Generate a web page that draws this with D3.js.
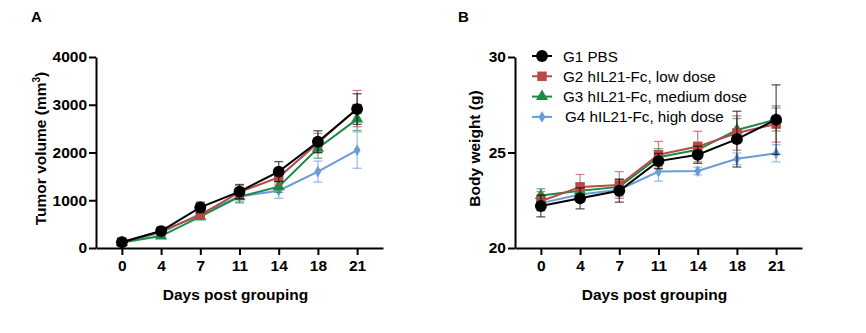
<!DOCTYPE html>
<html>
<head>
<meta charset="utf-8">
<script src="https://cdn.jsdelivr.net/npm/d3@7"></script>
<style>
  body { margin: 0; background: #fff; }
  svg text { font-family: "Liberation Sans", Arial, sans-serif; }
  .axis path, .axis line { stroke: #000; stroke-width: 2px; }
  .axis text { font-size: 15.5px; font-weight: bold; fill: #000; }
  .axis-label { font-size: 15.5px; font-weight: bold; }
  .panel-label { font-size: 15px; font-weight: bold; }
  .legend text { font-size: 15.2px; }
</style>
</head>
<body>
<div id="chart"></div>
<script>
// days after grouping
var days = ["0", "4", "7", "11", "14", "18", "21"];
var groups = ["G1 PBS", "G2 hIL21-Fc, low dose", "G3 hIL21-Fc, medium dose", "G4 hIL21-Fc, high dose"];
var groupColors = ["#000000", "#b84a45", "#1a8c44", "#6b9bd6"];

// tumor volume (mm3), mean and SEM per group
var tumorG1 = [120, 355, 850, 1180, 1600, 2225, 2910];
var tumorG2 = [125, 350, 690, 1170, 1480, 2200, 2920];
var tumorG3 = [115, 250, 655, 1075, 1285, 2090, 2700];
var tumorG4 = [118, 320, 720, 1080, 1200, 1600, 2050];
var tumorSemG1 = [30, 40, 110, 150, 210, 230, 320];
var tumorSemG2 = [30, 40, 80, 140, 160, 200, 380];
var tumorSemG3 = [25, 35, 60, 130, 120, 210, 240];
var tumorSemG4 = [25, 40, 80, 110, 160, 220, 380];

// body weight (g), mean and SEM per group
var weightG1 = [22.2, 22.6, 23.0, 24.55, 24.88, 25.7, 26.72];
var weightG2 = [22.45, 23.2, 23.3, 24.88, 25.31, 26.02, 26.49];
var weightG3 = [22.75, 23.0, 23.2, 24.75, 25.14, 26.18, 26.73];
var weightG4 = [22.35, 22.8, 23.05, 24.0, 24.03, 24.67, 24.96];
var weightSemG1 = [0.57, 0.55, 0.6, 0.4, 0.45, 1.46, 1.82];
var weightSemG2 = [0.5, 0.65, 0.7, 0.7, 0.8, 0.9, 0.95];
var weightSemG3 = [0.35, 0.4, 0.4, 0.45, 0.4, 0.6, 0.6];
var weightSemG4 = [0.3, 0.3, 0.35, 0.5, 0.2, 0.3, 0.45];

var tumorTicks = [0, 1000, 2000, 3000, 4000];
var weightTicks = [20, 25, 30];

var symbols = [d3.symbolCircle, d3.symbolSquare, d3.symbolTriangle, d3.symbolDiamond];
var symbolSizes = [110, 90, 64, 40];

var svg = d3.select("#chart").append("svg")
    .attr("width", 866)
    .attr("height", 333);

function drawPanel(cfg) {
    var g = svg.append("g")
        .attr("transform", "translate(" + cfg.left + "," + cfg.top + ")");

    var width = 287, height = 191;

    var x = d3.scalePoint()
        .domain(days)
        .range([0, width])
        .padding(0.66);

    var y = d3.scaleLinear()
        .domain(cfg.domain)
        .range([height, 0]);

    g.append("g")
        .attr("class", "axis x-axis")
        .attr("transform", "translate(0," + height + ")")
        .call(d3.axisBottom(x).tickSize(7).tickSizeOuter(0).tickPadding(5));

    g.append("g")
        .attr("class", "axis y-axis")
        .call(d3.axisLeft(y).tickValues(cfg.ticks).tickFormat(d3.format("d"))
            .tickSize(7).tickSizeOuter(0).tickPadding(2));

    // draw high dose first so PBS sits on top
    for (var i = cfg.series.length - 1; i >= 0; i--) {
        var vals = cfg.series[i], sem = cfg.sems[i], col = groupColors[i];
        var pts = days.map(function(d, j) { return {day: d, v: vals[j], e: sem[j]}; });

        var bars = g.append("g")
            .attr("stroke", col)
            .attr("stroke-opacity", 0.65)
            .attr("stroke-width", 1.3);

        bars.selectAll("line.v").data(pts).enter().append("line")
            .attr("x1", function(d) { return x(d.day); })
            .attr("x2", function(d) { return x(d.day); })
            .attr("y1", function(d) { return y(d.v - d.e); })
            .attr("y2", function(d) { return y(d.v + d.e); });

        [-1, 1].forEach(function(s) {
            bars.selectAll("line.c" + (s + 1)).data(pts).enter().append("line")
                .attr("x1", function(d) { return x(d.day) - 4.5; })
                .attr("x2", function(d) { return x(d.day) + 4.5; })
                .attr("y1", function(d) { return y(d.v + s * d.e); })
                .attr("y2", function(d) { return y(d.v + s * d.e); });
        });

        var line = d3.line()
            .x(function(d) { return x(d.day); })
            .y(function(d) { return y(d.v); });

        g.append("path")
            .datum(pts)
            .attr("fill", "none")
            .attr("stroke", col)
            .attr("stroke-width", 2)
            .attr("d", line);

        g.selectAll(".m" + i).data(pts).enter().append("path")
            .attr("class", "m" + i)
            .attr("transform", function(d) { return "translate(" + x(d.day) + "," + y(d.v) + ")"; })
            .attr("d", d3.symbol().type(symbols[i]).size(symbolSizes[i]))
            .attr("fill", col);
    }

    g.append("text")
        .attr("class", "axis-label")
        .attr("text-anchor", "middle")
        .attr("x", width / 2 - 4)
        .attr("y", height + 52)
        .text("Days post grouping");

    var yl = g.append("text")
        .attr("class", "axis-label")
        .attr("text-anchor", "middle")
        .attr("transform", "translate(" + cfg.yTitleX + "," + (height / 2 - 4) + ") rotate(-90)");
    yl.append("tspan").text(cfg.yTitle);
    if (cfg.sup) {
        yl.append("tspan").attr("dy", -6).attr("font-size", "10px").text(cfg.sup);
        yl.append("tspan").attr("dy", 6).text(")");
    }

    svg.append("text")
        .attr("class", "panel-label")
        .attr("x", cfg.labelX)
        .attr("y", 22)
        .text(cfg.label);

    return g;
}

drawPanel({
    left: 96, top: 57, domain: [0, 4000], ticks: tumorTicks,
    series: [tumorG1, tumorG2, tumorG3, tumorG4],
    sems: [tumorSemG1, tumorSemG2, tumorSemG3, tumorSemG4],
    yTitle: "Tumor volume (mm", sup: "3", yTitleX: -50,
    label: "A", labelX: 31
});

var gB = drawPanel({
    left: 515, top: 57, domain: [20, 30], ticks: weightTicks,
    series: [weightG1, weightG2, weightG3, weightG4],
    sems: [weightSemG1, weightSemG2, weightSemG3, weightSemG4],
    yTitle: "Body weight (g)", yTitleX: -35,
    label: "B", labelX: 458
});

// legend
var legend = gB.append("g")
    .attr("class", "legend")
    .attr("transform", "translate(17,-1)");

groups.forEach(function(name, i) {
    var row = legend.append("g").attr("transform", "translate(0," + (i * 20.3) + ")");
    row.append("line")
        .attr("x1", 0).attr("x2", 20)
        .attr("stroke", groupColors[i])
        .attr("stroke-width", 2);
    row.append("path")
        .attr("transform", "translate(10,0)")
        .attr("d", d3.symbol().type(symbols[i]).size(symbolSizes[i]))
        .attr("fill", groupColors[i]);
    row.append("text")
        .attr("x", i == 3 ? 33 : 31)
        .attr("y", 5.5)
        .text(name);
});
</script>
</body>
</html>
